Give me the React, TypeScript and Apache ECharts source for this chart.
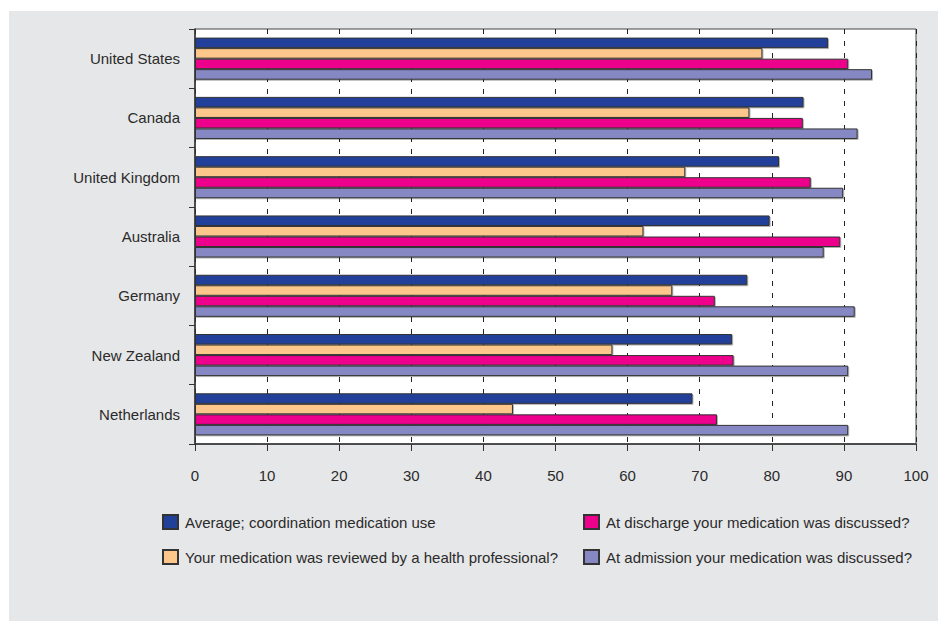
import React, { useEffect, useRef } from "react";
import * as echarts from "echarts";

const countries = [
  "United States",
  "Canada",
  "United Kingdom",
  "Australia",
  "Germany",
  "New Zealand",
  "Netherlands",
];

const seriesNames = [
  "Average; coordination medication use",
  "Your medication was reviewed by a health professional?",
  "At discharge your medication was discussed?",
  "At admission your medication was discussed?",
];

const averageCoordination = [87.8, 84.4, 81.0, 79.7, 76.6, 74.5, 69.0];
const reviewedByProfessional = [78.7, 76.9, 68.0, 62.2, 66.2, 57.9, 44.1];
const dischargeDiscussed = [90.6, 84.3, 85.4, 89.5, 72.1, 74.7, 72.4];
const admissionDiscussed = [93.9, 91.9, 89.9, 87.2, 91.5, 90.6, 90.6];

const xTicks = { min: 0, max: 100, interval: 10 };

const seriesColors = ["#21409A", "#FDC68A", "#EC008C", "#8588C2"];

const FONT = "'Liberation Sans', Arial, sans-serif";
const FONT_SIZE = 15;
const TEXT = "#2b2b2b";

export default function App() {
  const ref = useRef<HTMLDivElement>(null);

  useEffect(() => {
    if (!ref.current) return;
    const chart = echarts.init(ref.current, undefined, { renderer: "svg" });

    const values = [
      averageCoordination,
      reviewedByProfessional,
      dischargeDiscussed,
      admissionDiscussed,
    ];

    const series = seriesNames.map((name, i) => ({
      name,
      type: "bar" as const,
      data: values[i],
      barGap: "0%",
      barCategoryGap: "29%",
      itemStyle: {
        color: seriesColors[i],
        borderColor: "#333",
        borderWidth: 1,
        shadowColor: "rgba(0,0,0,0.3)",
        shadowOffsetX: 1,
        shadowOffsetY: 1,
        shadowBlur: 1,
      },
      emphasis: { disabled: true },
    }));

    const legendBase = {
      orient: "vertical" as const,
      top: 514,
      padding: 0,
      itemWidth: 15,
      itemHeight: 14,
      itemGap: 19,
      icon: "rect",
      selectedMode: false,
      textStyle: { fontFamily: FONT, fontSize: FONT_SIZE, color: TEXT, padding: [0, 0, 0, 2] },
    };

    chart.setOption({
      animation: false,
      backgroundColor: "#ffffff",
      graphic: [
        {
          type: "rect",
          z: -10,
          silent: true,
          shape: { x: 9, y: 11, width: 929, height: 610 },
          style: { fill: "#E6E7E8" },
        },
      ],
      grid: {
        left: 195,
        right: 22,
        top: 29,
        bottom: 177,
        show: true,
        backgroundColor: "#ffffff",
        borderColor: "#444",
        borderWidth: 1,
      },
      legend: [
        { ...legendBase, left: 162, data: [seriesNames[0], seriesNames[1]] },
        { ...legendBase, left: 583, data: [seriesNames[2], seriesNames[3]] },
      ],
      xAxis: {
        type: "value",
        min: xTicks.min,
        max: xTicks.max,
        interval: xTicks.interval,
        axisLine: { show: true, lineStyle: { color: "#333", width: 1.5 } },
        axisTick: { show: true, length: 7, lineStyle: { color: "#333" } },
        axisLabel: { margin: 24, fontFamily: FONT, fontSize: FONT_SIZE, color: TEXT },
        splitLine: {
          show: true,
          lineStyle: { color: "#222", type: [5, 7], width: 1 },
        },
      },
      yAxis: {
        type: "category",
        data: countries,
        inverse: true,
        axisLine: { show: true, lineStyle: { color: "#333", width: 1.5 } },
        axisTick: { show: true, length: 6, lineStyle: { color: "#333" } },
        axisLabel: { margin: 15, fontFamily: FONT, fontSize: FONT_SIZE, color: TEXT },
        splitLine: { show: false },
      },
      series,
    });

    return () => chart.dispose();
  }, []);

  return (
    <div
      ref={ref}
      style={{ position: "fixed", left: 0, top: 0, width: 938, height: 621 }}
    />
  );
}
